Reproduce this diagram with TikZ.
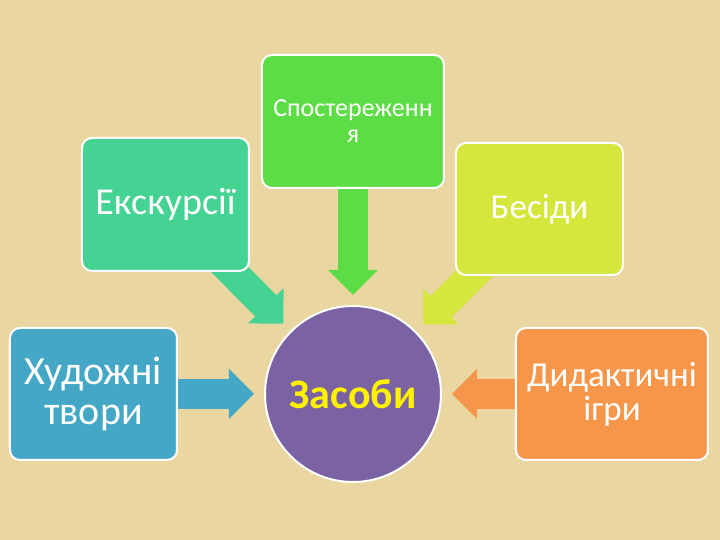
\documentclass[tikz,border=0pt]{standalone}
\usepackage{fontspec}
\setmainfont{Carlito}
\usetikzlibrary{arrows.meta, backgrounds}
\definecolor{paper}{RGB}{234,214,160}
\definecolor{obsgreen}{RGB}{92,221,69}
\definecolor{excteal}{RGB}{69,211,147}
\definecolor{talklime}{RGB}{213,230,60}
\definecolor{artblue}{RGB}{67,167,197}
\definecolor{gameorange}{RGB}{246,150,74}
\definecolor{ctrpurple}{RGB}{123,98,163}
\definecolor{ctryellow}{RGB}{255,242,0}

\begin{document}
\begin{tikzpicture}[x=0.5pt, y=-0.5pt, every node/.style={font=\fontsize{18.5}{20}\selectfont},
  box/.style={draw=white, line width=1pt, fill=#1, rounded corners=5pt, text=white, align=center, minimum width=83.5pt, minimum height=66pt},
  arr/.style={draw=#1, line width=15pt, shorten >=5pt, -{Triangle[length=12.5pt, width=25pt, line width=0pt]}}]
  \useasboundingbox (0,0) rectangle (720,540);
  \node[box=obsgreen, minimum width=91pt, minimum height=66.5pt, font=\fontsize{13}{13}\selectfont] (obs) at (353,121.5) {Спостереженн\\я};
  \node[box=excteal, minimum height=66.5pt, font=\fontsize{19}{20}\selectfont] (exc) at (165.5,204.5) {Екскурсії};
  \node[box=talklime, font=\fontsize{17.5}{20}\selectfont] (talk) at (539.5,209) {Бесіди};
  \node[box=artblue, font=\fontsize{20}{20}\selectfont] (art) at (93.5,394) {Художні\\твори};
  \node[box=gameorange, minimum width=96pt, font=\fontsize{17.5}{17}\selectfont] (game) at (612,394) {Дидактичні\\ігри};
  \node[circle, draw=white, line width=1pt, fill=ctrpurple, minimum size=88pt, text=ctryellow, font=\fontsize{21}{24}\selectfont\bfseries] (ctr) at (353,394) {Засоби};
  \begin{scope}[on background layer]
    \fill[paper] (0,0) rectangle (720,540);
    \draw[arr=obsgreen] (obs.center) -- (ctr);
    \draw[arr=excteal] (exc.center) -- (ctr);
    \draw[arr=talklime] (talk.center) -- (ctr);
    \draw[arr=artblue] (art.center) -- (ctr);
    \draw[arr=gameorange] (game.center) -- (ctr);
  \end{scope}
\end{tikzpicture}
\end{document}
